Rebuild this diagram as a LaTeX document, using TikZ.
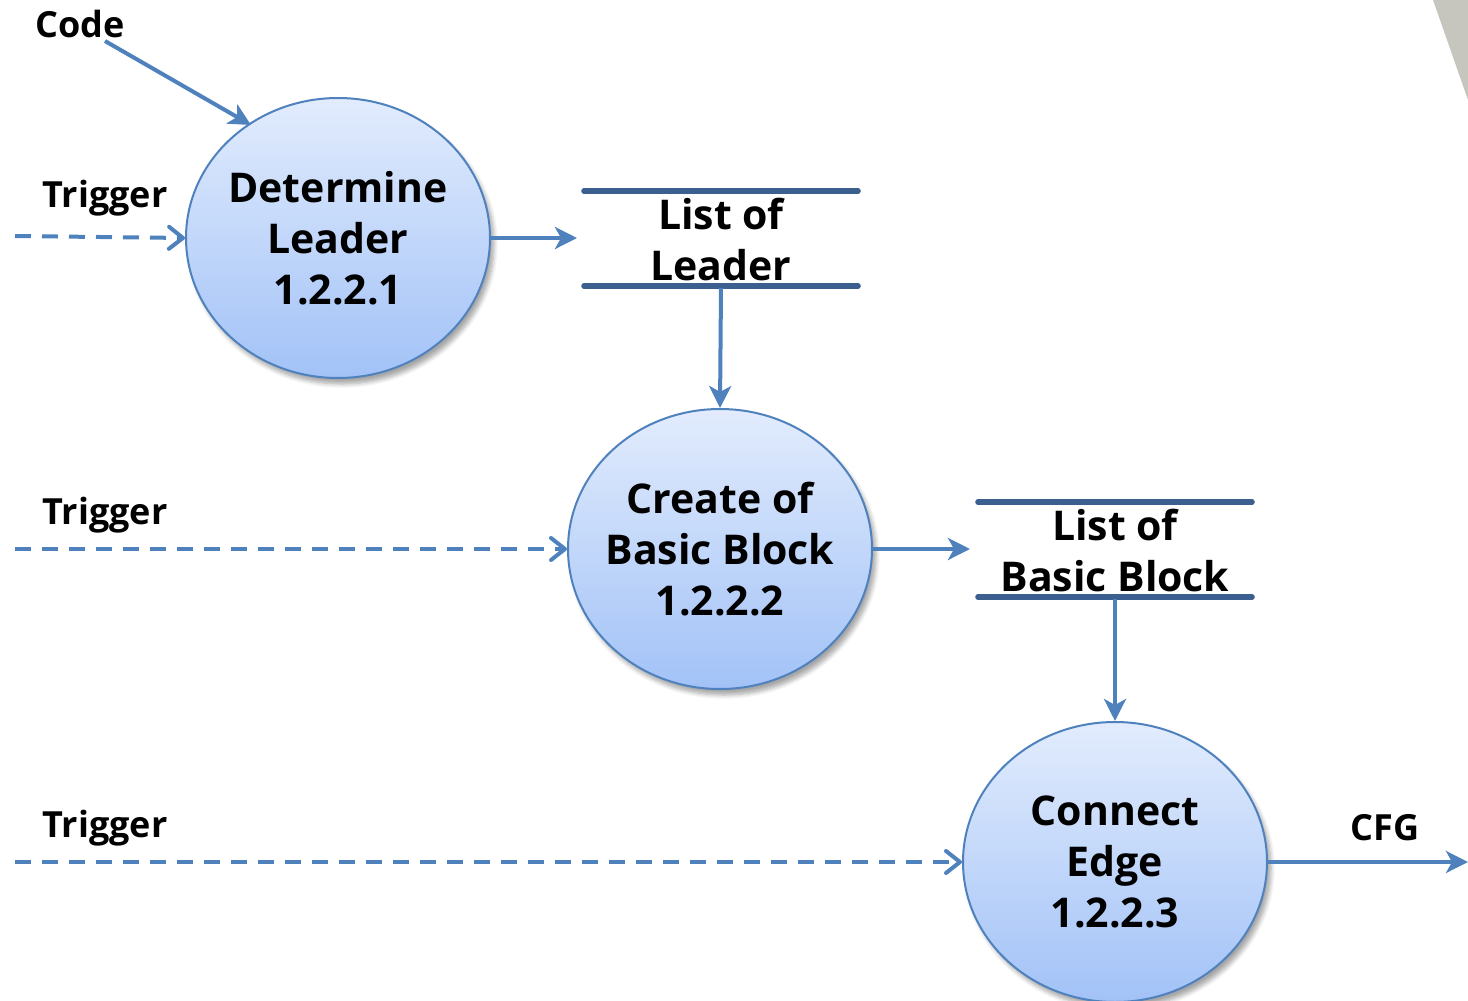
\documentclass[tikz,border=0pt]{standalone}
\usepackage{fontspec}
\setmainfont{Open Sans}
\usetikzlibrary{arrows.meta,shapes.geometric,shadows.blur}
\definecolor{lineblue}{HTML}{4F81BD}
\definecolor{storeblue}{HTML}{3B5F8F}
\definecolor{topfill}{HTML}{E2ECFD}
\definecolor{botfill}{HTML}{A2C2F7}
\definecolor{greyshape}{HTML}{C6C6BE}
\tikzset{
  proc/.style={ellipse, draw=lineblue, line width=1pt, top color=topfill, bottom color=botfill,
    minimum width=152pt, minimum height=140pt, inner sep=0pt,
    blur shadow={shadow xshift=2pt, shadow yshift=-3pt, shadow blur steps=6, shadow opacity=35}},
  proctext/.style={align=center, font=\fontsize{20.5}{25.5}\selectfont\bfseries, inner sep=0pt},
  storetext/.style={align=center, font=\fontsize{20.5}{25.5}\selectfont\bfseries, inner sep=0pt},
  storeline/.style={draw=storeblue, line width=2.8pt, line cap=round},
  flow/.style={draw=lineblue, line width=2pt, -{Stealth[length=11pt,width=11pt,inset=3pt]}},
  trig/.style={draw=lineblue, line width=2pt, dash pattern=on 8pt off 5.5pt, -{Straight Barb[length=7pt,width=11pt,line width=2pt,round]}},
  lbl/.style={font=\fontsize{18}{22}\selectfont\bfseries, inner sep=0pt},
}
\begin{document}
\begin{tikzpicture}[x=0.5pt,y=-0.5pt]
\useasboundingbox (0,0) rectangle (1468,1001);
\fill[greyshape] (1433,0) -- (1468,0) -- (1468,100) -- cycle;

\node[proc] (p1) at (338,238) {};
\node[proctext] (p1t) at (p1.center) {Determine\\Leader\\1.2.2.1};
\node[proc] (p2) at (720,549) {};
\node[proctext] (p2t) at (p2.center) {Create of\\Basic Block\\1.2.2.2};
\node[proc] (p3) at (1115,862) {};
\node[proctext] (p3t) at (p3.center) {Connect\\Edge\\1.2.2.3};

% store 1
\coordinate (s1tl) at (584,191); \coordinate (s1tr) at (858,191);
\coordinate (s1bl) at (584,286); \coordinate (s1br) at (858,286);
\coordinate (s1in) at (577,238); \coordinate (s1out) at (721,288);
\node[storetext] (s1) at (721,240) {List of\\Leader};
\draw[storeline] (s1tl) -- (s1tr);
\draw[storeline] (s1bl) -- (s1br);

% store 2
\coordinate (s2tl) at (978,502); \coordinate (s2tr) at (1252,502);
\coordinate (s2bl) at (978,597); \coordinate (s2br) at (1252,597);
\coordinate (s2in) at (970,549); \coordinate (s2out) at (1115,599);
\node[storetext] (s2) at (1115,551) {List of\\Basic Block};
\draw[storeline] (s2tl) -- (s2tr);
\draw[storeline] (s2bl) -- (s2br);

% labels
\node[lbl] (code) at (80,24) {Code};
\node[lbl] (t1) at (105,198) {Trigger};
\node[lbl] (t2) at (105,515) {Trigger};
\node[lbl] (t3) at (105,828) {Trigger};
\node[lbl] (cfg) at (1385,828) {CFG};

\coordinate (codestart) at (105,41);
\coordinate (codeend) at (251,125);
\coordinate (t1s) at (15,236);
\coordinate (t2s) at (15,549);
\coordinate (t3s) at (15,862);
\coordinate (cfgend) at (1468,862);

% flows
\draw[flow] (codestart) -- (codeend);
\draw[trig] (t1s) -- (p1.west);
\draw[trig] (t2s) -- (p2.west);
\draw[trig] (t3s) -- (p3.west);
\draw[flow] (p1.east) -- (s1in);
\draw[flow] (s1out) -- (p2.north);
\draw[flow] (p2.east) -- (s2in);
\draw[flow] (s2out) -- (p3.north);
\draw[flow] (p3.east) -- (cfgend);
\end{tikzpicture}
\end{document}
